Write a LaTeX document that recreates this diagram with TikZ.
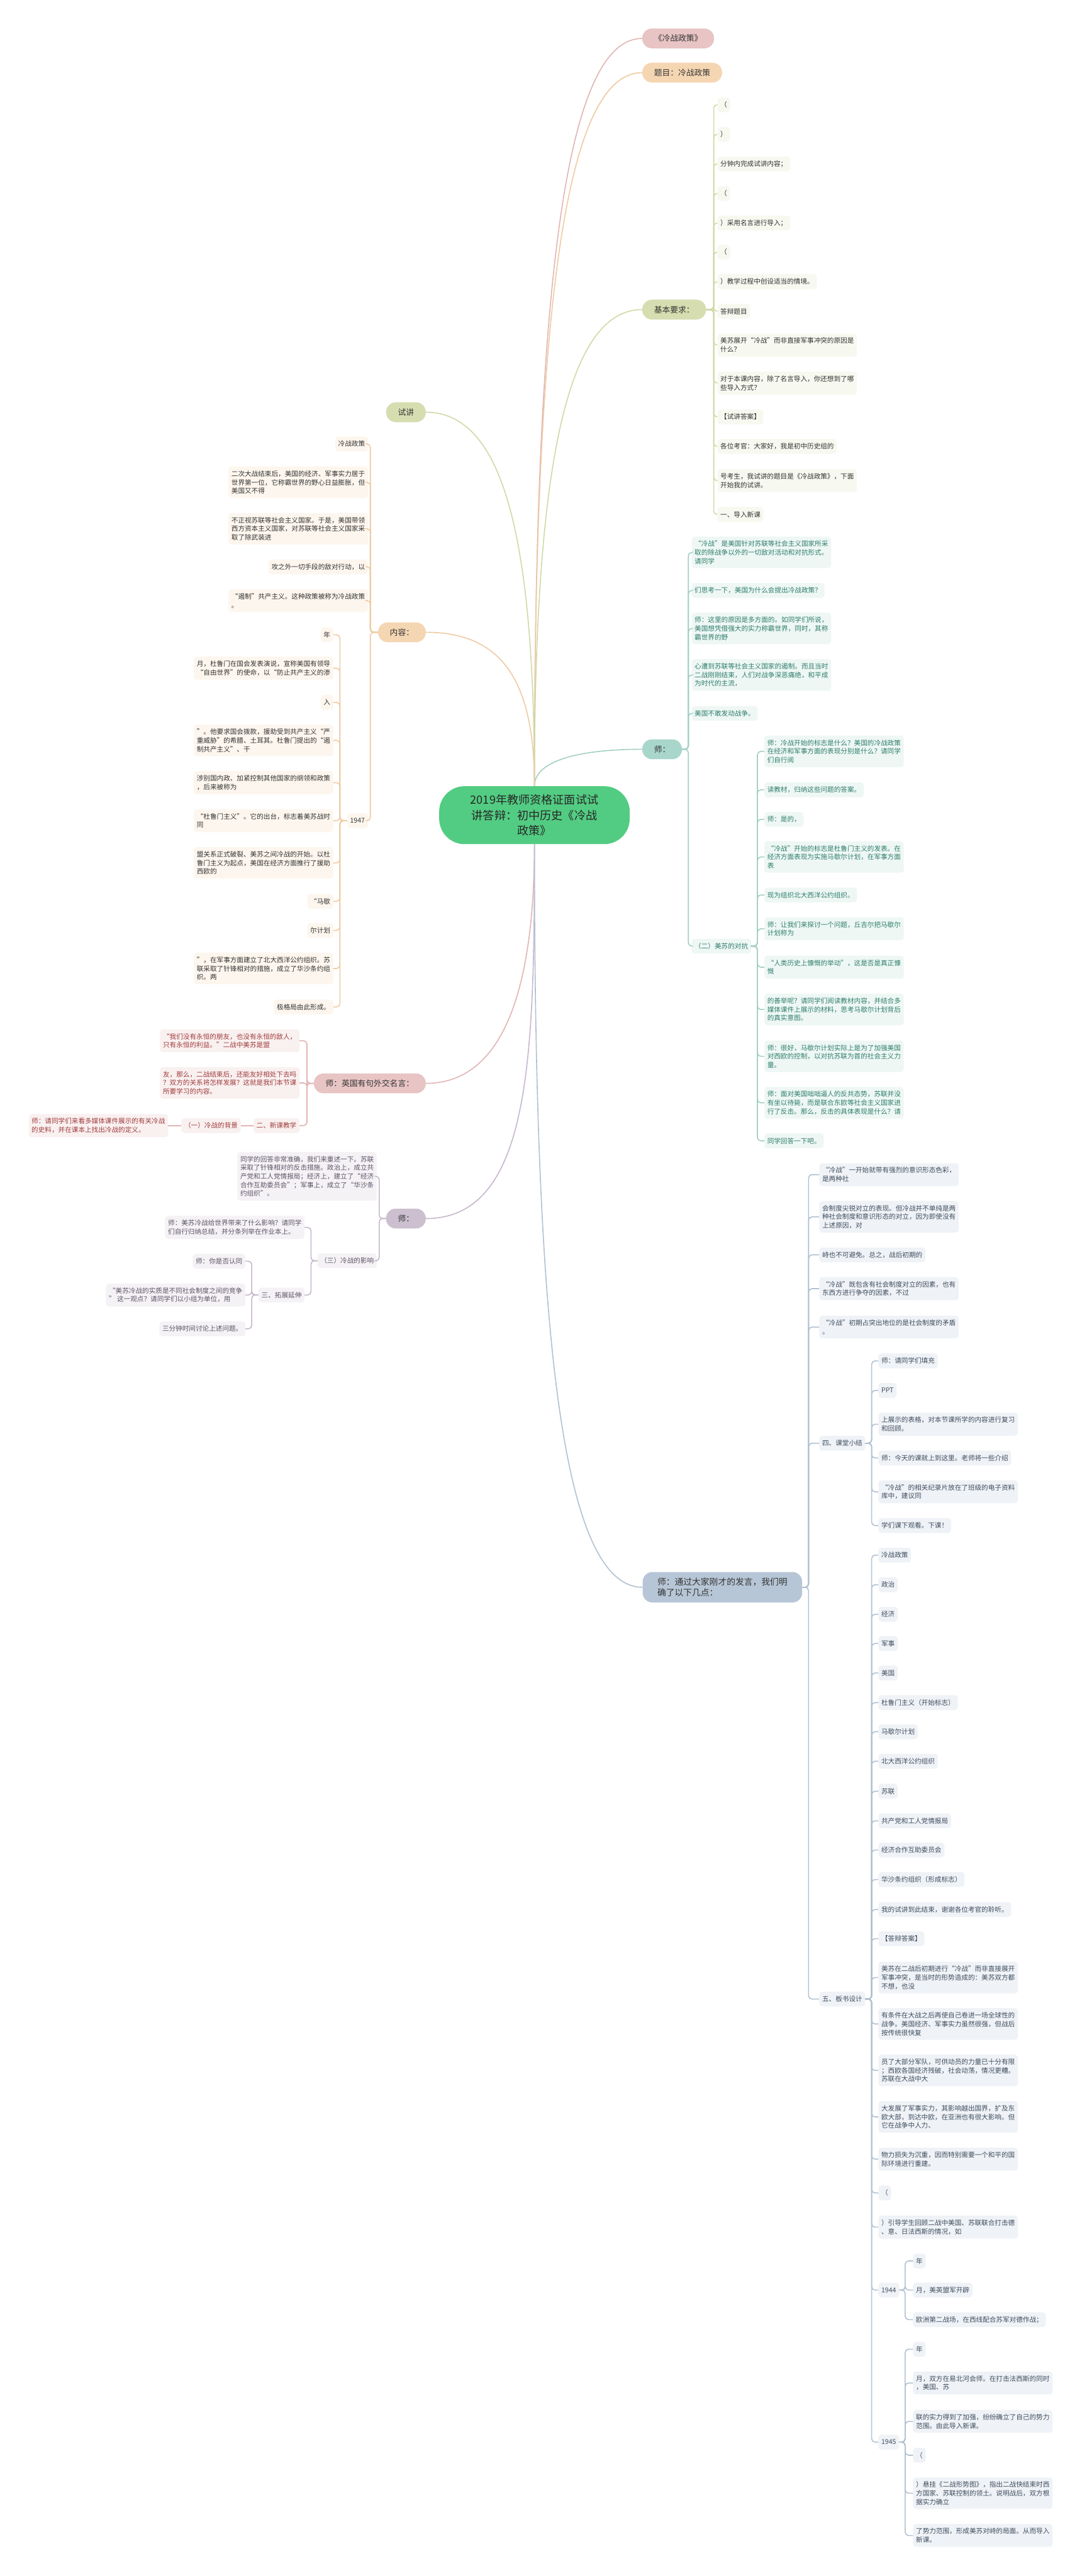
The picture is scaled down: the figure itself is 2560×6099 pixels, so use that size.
\documentclass[tikz,border=0pt]{standalone}
\usepackage{fontspec}
\setmainfont{Noto Sans CJK SC}

\definecolor{rootfill}{HTML}{52CC82}
\definecolor{textdark}{HTML}{333333}
\definecolor{pinkfill}{HTML}{E8C4C4}
\definecolor{pinkline}{HTML}{E2B4B4}
\definecolor{pinktext}{HTML}{A03C3C}
\definecolor{peachfill}{HTML}{F5D6B3}
\definecolor{peachline}{HTML}{EFCBA2}
\definecolor{olivefill}{HTML}{D6DDB0}
\definecolor{oliveline}{HTML}{D1D9A6}
\definecolor{purplefill}{HTML}{CBBFD0}
\definecolor{purpleline}{HTML}{C6B7CB}
\definecolor{purpletext}{HTML}{5C5466}
\definecolor{tealfill}{HTML}{A9D6CA}
\definecolor{tealline}{HTML}{A5D0C4}
\definecolor{tealtext}{HTML}{2E7D6B}
\definecolor{bluefill}{HTML}{B7C6D6}
\definecolor{blueline}{HTML}{B2C1D1}
\definecolor{bluetext}{HTML}{3F4D5E}

\tikzset{
  rootnode/.style={fill=rootfill, text=black!85, font=\fontsize{27}{36}\selectfont,
    align=center, inner xsep=74pt, inner ysep=20pt, rounded corners=60pt},
  topnode/.style={text=textdark, font=\fontsize{19}{24}\selectfont, align=left,
    inner xsep=28pt, inner ysep=14pt, minimum height=47pt, rounded corners=23pt},
  leaf/.style={font=\fontsize{15.8}{20.4}\selectfont, align=left,
    inner xsep=7pt, inner ysep=9.5pt, minimum height=35pt, rounded corners=7pt},
  oleaf/.style={leaf, fill=olivefill!20, text=textdark},
  cleaf/.style={leaf, fill=peachfill!22, text=textdark},
  rleaf/.style={leaf, fill=pinkfill!25, text=pinktext},
  pleaf/.style={leaf, fill=purplefill!20, text=purpletext},
  tleaf/.style={leaf, fill=tealfill!20, text=tealtext},
  bleaf/.style={leaf, fill=bluefill!22, text=bluetext},
  link/.style={line width=2.4pt, rounded corners=8pt},
  olink/.style={link, draw=oliveline},
  clink/.style={link, draw=peachline},
  rlink/.style={link, draw=pinkline},
  plink/.style={link, draw=purpleline},
  tlink/.style={link, draw=tealline},
  blink/.style={link, draw=blueline}
}

\begin{document}
\begin{tikzpicture}[x=1pt,y=-1pt]
\useasboundingbox[fill=white] (0,0) rectangle (2560,6099);

% centre and main branches
\node[rootnode] (root) at (1265,1930) {2019年教师资格证面试试\\讲答辩：初中历史《冷战\\政策》};

\node[topnode,fill=pinkfill,anchor=west] (poster) at (1520,91) {《冷战政策》};
\node[topnode,fill=peachfill,anchor=west] (topic) at (1520,172) {题目：冷战政策};
\node[topnode,fill=olivefill,anchor=west] (req) at (1520,733) {基本要求：};
\node[topnode,fill=tealfill,anchor=west] (tchA) at (1520,1774) {师：};
\node[topnode,fill=bluefill,anchor=west,font=\fontsize{20.5}{25}\selectfont,inner xsep=35pt] (tchD) at (1521,3758) {师：通过大家刚才的发言，我们明\\确了以下几点：};
\node[topnode,fill=olivefill,anchor=east] (trial) at (1008,976) {试讲};
\node[topnode,fill=peachfill,anchor=east] (content) at (1008,1497) {内容：};
\node[topnode,fill=pinkfill,anchor=east] (quote) at (1008,2565) {师：英国有句外交名言：};
\node[topnode,fill=purplefill,anchor=east] (tchB) at (1008,2885) {师：};

\draw[link,draw=pinkline] (root.north) .. controls +(0,-1200) and +(-180,0) .. (poster.west);
\draw[link,draw=peachline] (root.north) .. controls +(0,-1150) and +(-180,0) .. (topic.west);
\draw[olink] (root.north) .. controls +(0,-750) and +(-180,0) .. (req.west);
\draw[tlink] (root.north) .. controls +(0,-60) and +(-150,0) .. (tchA.west);
\draw[olink] (root.north) .. controls +(0,-600) and +(180,0) .. (trial.east);
\draw[clink] (root.north) .. controls +(0,-250) and +(180,0) .. (content.east);
\draw[rlink] (root.south) .. controls +(0,300) and +(200,0) .. (quote.east);
\draw[plink] (root.south) .. controls +(0,500) and +(250,0) .. (tchB.east);
\draw[blink] (root.south) .. controls +(0,1100) and +(-200,0) .. (tchD.west);

% basic requirements
\node[oleaf,anchor=west] (k1) at (1698,248) {（};
\node[oleaf,anchor=west] (k2) at (1698,318) {）};
\node[oleaf,anchor=west] (k3) at (1698,388) {分钟内完成试讲内容；};
\node[oleaf,anchor=west] (k4) at (1698,458) {（};
\node[oleaf,anchor=west] (k5) at (1698,528) {）采用名言进行导入；};
\node[oleaf,anchor=west] (k6) at (1698,597) {（};
\node[oleaf,anchor=west] (k7) at (1698,667) {）教学过程中创设适当的情境。};
\node[oleaf,anchor=west] (k8) at (1698,737) {答辩题目};
\node[oleaf,anchor=west] (k9) at (1698,817) {美苏展开“冷战”而非直接军事冲突的原因是\\什么？};
\node[oleaf,anchor=west] (k10) at (1698,907) {对于本课内容，除了名言导入，你还想到了哪\\些导入方式？};
\node[oleaf,anchor=west] (k11) at (1698,987) {【试讲答案】};
\node[oleaf,anchor=west] (k12) at (1698,1057) {各位考官：大家好，我是初中历史组的};
\node[oleaf,anchor=west] (k13) at (1698,1138) {号考生，我试讲的题目是《冷战政策》，下面\\开始我的试讲。};
\node[oleaf,anchor=west] (k14) at (1698,1218) {一、导入新课};
\draw[olink] (req.east) -- ++(18,0) |- (k1.west);
\draw[olink] (req.east) -- ++(18,0) |- (k2.west);
\draw[olink] (req.east) -- ++(18,0) |- (k3.west);
\draw[olink] (req.east) -- ++(18,0) |- (k4.west);
\draw[olink] (req.east) -- ++(18,0) |- (k5.west);
\draw[olink] (req.east) -- ++(18,0) |- (k6.west);
\draw[olink] (req.east) -- ++(18,0) |- (k7.west);
\draw[olink] (req.east) -- ++(18,0) |- (k8.west);
\draw[olink] (req.east) -- ++(18,0) |- (k9.west);
\draw[olink] (req.east) -- ++(18,0) |- (k10.west);
\draw[olink] (req.east) -- ++(18,0) |- (k11.west);
\draw[olink] (req.east) -- ++(18,0) |- (k12.west);
\draw[olink] (req.east) -- ++(18,0) |- (k13.west);
\draw[olink] (req.east) -- ++(18,0) |- (k14.west);

% content
\node[cleaf,anchor=east] (n1) at (871,1051) {冷战政策};
\node[cleaf,anchor=east] (n2) at (871,1142) {二次大战结束后，美国的经济、军事实力居于\\世界第一位，它称霸世界的野心日益膨胀，但\\美国又不得};
\node[cleaf,anchor=east] (n3) at (871,1252) {不正视苏联等社会主义国家。于是，美国带领\\西方资本主义国家，对苏联等社会主义国家采\\取了除武装进};
\node[cleaf,anchor=east] (n4) at (871,1342) {攻之外一切手段的敌对行动，以};
\node[cleaf,anchor=east] (n5) at (871,1422) {“遏制”共产主义。这种政策被称为冷战政策\\。};
\node[cleaf,anchor=east] (n6) at (871,1943) {1947};
\draw[clink] (content.west) -- ++(-18,0) |- (n1.east);
\draw[clink] (content.west) -- ++(-18,0) |- (n2.east);
\draw[clink] (content.west) -- ++(-18,0) |- (n3.east);
\draw[clink] (content.west) -- ++(-18,0) |- (n4.east);
\draw[clink] (content.west) -- ++(-18,0) |- (n5.east);
\draw[clink] (content.west) -- ++(-18,0) |- (n6.east);

\node[cleaf,anchor=east] (y1) at (789,1503) {年};
\node[cleaf,anchor=east] (y2) at (789,1582) {月，杜鲁门在国会发表演说，宣称美国有领导\\“自由世界”的使命，以“防止共产主义的渗};
\node[cleaf,anchor=east] (y3) at (789,1663) {入};
\node[cleaf,anchor=east] (y4) at (789,1753) {”。他要求国会拨款，援助受到共产主义“严\\重威胁”的希腊、土耳其。杜鲁门提出的“遏\\制共产主义”、干};
\node[cleaf,anchor=east] (y5) at (789,1853) {涉别国内政、加紧控制其他国家的纲领和政策\\，后来被称为};
\node[cleaf,anchor=east] (y6) at (789,1943) {“杜鲁门主义”。它的出台，标志着美苏战时\\同};
\node[cleaf,anchor=east] (y7) at (789,2043) {盟关系正式破裂、美苏之间冷战的开始。以杜\\鲁门主义为起点，美国在经济方面推行了援助\\西欧的};
\node[cleaf,anchor=east] (y8) at (789,2134) {“马歇};
\node[cleaf,anchor=east] (y9) at (789,2203) {尔计划};
\node[cleaf,anchor=east] (y10) at (789,2293) {”，在军事方面建立了北大西洋公约组织。苏\\联采取了针锋相对的措施，成立了华沙条约组\\织。两};
\node[cleaf,anchor=east] (y11) at (789,2384) {极格局由此形成。};
\draw[clink] (n6.west) -- ++(-17,0) |- (y1.east);
\draw[clink] (n6.west) -- ++(-17,0) |- (y2.east);
\draw[clink] (n6.west) -- ++(-17,0) |- (y3.east);
\draw[clink] (n6.west) -- ++(-17,0) |- (y4.east);
\draw[clink] (n6.west) -- ++(-17,0) |- (y5.east);
\draw[clink] (n6.west) -- ++(-17,0) |- (y6.east);
\draw[clink] (n6.west) -- ++(-17,0) |- (y7.east);
\draw[clink] (n6.west) -- ++(-17,0) |- (y8.east);
\draw[clink] (n6.west) -- ++(-17,0) |- (y9.east);
\draw[clink] (n6.west) -- ++(-17,0) |- (y10.east);
\draw[clink] (n6.west) -- ++(-17,0) |- (y11.east);

% quote
\node[rleaf,anchor=east] (e1) at (709,2464) {“我们没有永恒的朋友，也没有永恒的敌人，\\只有永恒的利益。”二战中美苏是盟};
\node[rleaf,anchor=east] (e2) at (709,2564) {友，那么，二战结束后，还能友好相处下去吗\\？双方的关系将怎样发展？这就是我们本节课\\所要学习的内容。};
\node[rleaf,anchor=east] (e3) at (709,2665) {二、新课教学};
\node[rleaf,anchor=east] (f1) at (570,2665) {（一）冷战的背景};
\node[rleaf,anchor=east] (g1) at (398,2665) {师：请同学们来看多媒体课件展示的有关冷战\\的史料，并在课本上找出冷战的定义。};
\draw[rlink] (quote.west) -- ++(-16,0) |- (e1.east);
\draw[rlink] (quote.west) -- ++(-16,0) |- (e2.east);
\draw[rlink] (quote.west) -- ++(-16,0) |- (e3.east);
\draw[rlink] (e3.west) -- (f1.east);
\draw[rlink] (f1.west) -- (g1.east);

% teacher, purple
\node[pleaf,anchor=east] (p1) at (892,2785) {同学的回答非常准确，我们来重述一下。苏联\\采取了针锋相对的反击措施。政治上，成立共\\产党和工人党情报局；经济上，建立了“经济\\合作互助委员会”；军事上，成立了“华沙条\\约组织”。};
\node[pleaf,anchor=east] (p2) at (892,2985) {（三）冷战的影响};
\node[pleaf,anchor=east] (q1) at (721,2906) {师：美苏冷战给世界带来了什么影响？请同学\\们自行归纳总结，并分条列举在作业本上。};
\node[pleaf,anchor=east] (q2) at (721,3066) {三、拓展延伸};
\node[pleaf,anchor=east] (r1) at (581,2986) {师：你是否认同};
\node[pleaf,anchor=east] (r2) at (581,3066) {“美苏冷战的实质是不同社会制度之间的竞争\\” 这一观点？请同学们以小组为单位，用};
\node[pleaf,anchor=east] (r3) at (581,3146) {三分钟时间讨论上述问题。};
\draw[plink] (tchB.west) -- ++(-16,0) |- (p1.east);
\draw[plink] (tchB.west) -- ++(-16,0) |- (p2.east);
\draw[plink] (p2.west) -- ++(-15,0) |- (q1.east);
\draw[plink] (p2.west) -- ++(-15,0) |- (q2.east);
\draw[plink] (q2.west) -- ++(-16,0) |- (r1.east);
\draw[plink] (q2.west) -- ++(-16,0) |- (r2.east);
\draw[plink] (q2.west) -- ++(-16,0) |- (r3.east);

% teacher, teal
\node[tleaf,anchor=west] (t1) at (1637,1308) {“冷战”是美国针对苏联等社会主义国家所采\\取的除战争以外的一切敌对活动和对抗形式。\\请同学};
\node[tleaf,anchor=west] (t2) at (1637,1398) {们思考一下，美国为什么会提出冷战政策？};
\node[tleaf,anchor=west] (t3) at (1637,1488) {师：这里的原因是多方面的。如同学们所说，\\美国想凭借强大的实力称霸世界，同时，其称\\霸世界的野};
\node[tleaf,anchor=west] (t4) at (1637,1598) {心遭到苏联等社会主义国家的遏制。而且当时\\二战刚刚结束，人们对战争深恶痛绝，和平成\\为时代的主流，};
\node[tleaf,anchor=west] (t5) at (1637,1689) {美国不敢发动战争。};
\node[tleaf,anchor=west] (t6) at (1637,2240) {（二）美苏的对抗};
\draw[tlink] (tchA.east) -- ++(15,0) |- (t1.west);
\draw[tlink] (tchA.east) -- ++(15,0) |- (t2.west);
\draw[tlink] (tchA.east) -- ++(15,0) |- (t3.west);
\draw[tlink] (tchA.east) -- ++(15,0) |- (t4.west);
\draw[tlink] (tchA.east) -- ++(15,0) |- (t5.west);
\draw[tlink] (tchA.east) -- ++(15,0) |- (t6.west);

\node[tleaf,anchor=west] (u1) at (1809,1779) {师：冷战开始的标志是什么？美国的冷战政策\\在经济和军事方面的表现分别是什么？请同学\\们自行阅};
\node[tleaf,anchor=west] (u2) at (1809,1870) {读教材，归纳这些问题的答案。};
\node[tleaf,anchor=west] (u3) at (1809,1940) {师：是的，};
\node[tleaf,anchor=west] (u4) at (1809,2029) {“冷战”开始的标志是杜鲁门主义的发表。在\\经济方面表现为实施马歇尔计划，在军事方面\\表};
\node[tleaf,anchor=west] (u5) at (1809,2119) {现为组织北大西洋公约组织。};
\node[tleaf,anchor=west] (u6) at (1809,2199) {师：让我们来探讨一个问题，丘吉尔把马歇尔\\计划称为};
\node[tleaf,anchor=west] (u7) at (1809,2290) {“人类历史上慷慨的举动”，这是否是真正慷\\慨};
\node[tleaf,anchor=west] (u8) at (1809,2390) {的善举呢？请同学们阅读教材内容，并结合多\\媒体课件上展示的材料，思考马歇尔计划背后\\的真实意图。};
\node[tleaf,anchor=west] (u9) at (1809,2501) {师：很好，马歇尔计划实际上是为了加强美国\\对西欧的控制，以对抗苏联为首的社会主义力\\量。};
\node[tleaf,anchor=west] (u10) at (1809,2611) {师：面对美国咄咄逼人的反共态势，苏联并没\\有坐以待毙，而是联合东欧等社会主义国家进\\行了反击。那么，反击的具体表现是什么？请};
\node[tleaf,anchor=west] (u11) at (1809,2701) {同学回答一下吧。};
\draw[tlink] (t6.east) -- ++(15,0) |- (u1.west);
\draw[tlink] (t6.east) -- ++(15,0) |- (u2.west);
\draw[tlink] (t6.east) -- ++(15,0) |- (u3.west);
\draw[tlink] (t6.east) -- ++(15,0) |- (u4.west);
\draw[tlink] (t6.east) -- ++(15,0) |- (u5.west);
\draw[tlink] (t6.east) -- ++(15,0) |- (u6.west);
\draw[tlink] (t6.east) -- ++(15,0) |- (u7.west);
\draw[tlink] (t6.east) -- ++(15,0) |- (u8.west);
\draw[tlink] (t6.east) -- ++(15,0) |- (u9.west);
\draw[tlink] (t6.east) -- ++(15,0) |- (u10.west);
\draw[tlink] (t6.east) -- ++(15,0) |- (u11.west);

% teacher, summary
\node[bleaf,anchor=west] (w1) at (1939,2781) {“冷战”一开始就带有强烈的意识形态色彩，\\是两种社};
\node[bleaf,anchor=west] (w2) at (1939,2881) {会制度尖锐对立的表现。但冷战并不单纯是两\\种社会制度和意识形态的对立，因为即使没有\\上述原因，对};
\node[bleaf,anchor=west] (w3) at (1939,2971) {峙也不可避免。总之，战后初期的};
\node[bleaf,anchor=west] (w4) at (1939,3051) {“冷战”既包含有社会制度对立的因素，也有\\东西方进行争夺的因素，不过};
\node[bleaf,anchor=west] (w5) at (1939,3142) {“冷战”初期占突出地位的是社会制度的矛盾\\。};
\node[bleaf,anchor=west] (w6) at (1939,3417) {四、课堂小结};
\node[bleaf,anchor=west] (w7) at (1939,4733) {五、板书设计};
\draw[blink] (tchD.east) -- ++(15,0) |- (w1.west);
\draw[blink] (tchD.east) -- ++(15,0) |- (w2.west);
\draw[blink] (tchD.east) -- ++(15,0) |- (w3.west);
\draw[blink] (tchD.east) -- ++(15,0) |- (w4.west);
\draw[blink] (tchD.east) -- ++(15,0) |- (w5.west);
\draw[blink] (tchD.east) -- ++(15,0) |- (w6.west);
\draw[blink] (tchD.east) -- ++(15,0) |- (w7.west);

\node[bleaf,anchor=west] (x1) at (2079,3222) {师：请同学们填充};
\node[bleaf,anchor=west] (x2) at (2079,3292) {PPT};
\node[bleaf,anchor=west] (x3) at (2079,3372) {上展示的表格，对本节课所学的内容进行复习\\和回顾。};
\node[bleaf,anchor=west] (x4) at (2079,3452) {师：今天的课就上到这里。老师将一些介绍};
\node[bleaf,anchor=west] (x5) at (2079,3532) {“冷战”的相关纪录片放在了班级的电子资料\\库中，建议同};
\node[bleaf,anchor=west] (x6) at (2079,3612) {学们课下观看。下课！};
\draw[blink] (w6.east) -- ++(15,0) |- (x1.west);
\draw[blink] (w6.east) -- ++(15,0) |- (x2.west);
\draw[blink] (w6.east) -- ++(15,0) |- (x3.west);
\draw[blink] (w6.east) -- ++(15,0) |- (x4.west);
\draw[blink] (w6.east) -- ++(15,0) |- (x5.west);
\draw[blink] (w6.east) -- ++(15,0) |- (x6.west);

\node[bleaf,anchor=west] (z1) at (2079,3682) {冷战政策};
\node[bleaf,anchor=west] (z2) at (2079,3752) {政治};
\node[bleaf,anchor=west] (z3) at (2079,3822) {经济};
\node[bleaf,anchor=west] (z4) at (2079,3891) {军事};
\node[bleaf,anchor=west] (z5) at (2079,3961) {美国};
\node[bleaf,anchor=west] (z6) at (2079,4031) {杜鲁门主义（开始标志）};
\node[bleaf,anchor=west] (z7) at (2079,4100) {马歇尔计划};
\node[bleaf,anchor=west] (z8) at (2079,4170) {北大西洋公约组织};
\node[bleaf,anchor=west] (z9) at (2079,4241) {苏联};
\node[bleaf,anchor=west] (z10) at (2079,4311) {共产党和工人党情报局};
\node[bleaf,anchor=west] (z11) at (2079,4380) {经济合作互助委员会};
\node[bleaf,anchor=west] (z12) at (2079,4450) {华沙条约组织（形成标志）};
\node[bleaf,anchor=west] (z13) at (2079,4521) {我的试讲到此结束，谢谢各位考官的聆听。};
\node[bleaf,anchor=west] (z14) at (2079,4590) {【答辩答案】};
\node[bleaf,anchor=west] (z15) at (2079,4682) {美苏在二战后初期进行“冷战”而非直接展开\\军事冲突，是当时的形势造成的：美苏双方都\\不想，也没};
\node[bleaf,anchor=west] (z16) at (2079,4792) {有条件在大战之后再使自己卷进一场全球性的\\战争。美国经济、军事实力虽然很强，但战后\\按传统很快复};
\node[bleaf,anchor=west] (z17) at (2079,4902) {员了大部分军队，可供动员的力量已十分有限\\；西欧各国经济残破，社会动荡，情况更糟。\\苏联在大战中大};
\node[bleaf,anchor=west] (z18) at (2079,5012) {大发展了军事实力，其影响越出国界，扩及东\\欧大部，到达中欧，在亚洲也有很大影响。但\\它在战争中人力、};
\node[bleaf,anchor=west] (z19) at (2079,5112) {物力损失为沉重，因而特别需要一个和平的国\\际环境进行重建。};
\node[bleaf,anchor=west] (z20) at (2079,5192) {（};
\node[bleaf,anchor=west] (z21) at (2079,5273) {）引导学生回顾二战中美国、苏联联合打击德\\、意、日法西斯的情况，如};
\node[bleaf,anchor=west] (z22) at (2079,5422) {1944};
\node[bleaf,anchor=west] (z23) at (2079,5782) {1945};
\draw[blink] (w7.east) -- ++(15,0) |- (z1.west);
\draw[blink] (w7.east) -- ++(15,0) |- (z2.west);
\draw[blink] (w7.east) -- ++(15,0) |- (z3.west);
\draw[blink] (w7.east) -- ++(15,0) |- (z4.west);
\draw[blink] (w7.east) -- ++(15,0) |- (z5.west);
\draw[blink] (w7.east) -- ++(15,0) |- (z6.west);
\draw[blink] (w7.east) -- ++(15,0) |- (z7.west);
\draw[blink] (w7.east) -- ++(15,0) |- (z8.west);
\draw[blink] (w7.east) -- ++(15,0) |- (z9.west);
\draw[blink] (w7.east) -- ++(15,0) |- (z10.west);
\draw[blink] (w7.east) -- ++(15,0) |- (z11.west);
\draw[blink] (w7.east) -- ++(15,0) |- (z12.west);
\draw[blink] (w7.east) -- ++(15,0) |- (z13.west);
\draw[blink] (w7.east) -- ++(15,0) |- (z14.west);
\draw[blink] (w7.east) -- ++(15,0) |- (z15.west);
\draw[blink] (w7.east) -- ++(15,0) |- (z16.west);
\draw[blink] (w7.east) -- ++(15,0) |- (z17.west);
\draw[blink] (w7.east) -- ++(15,0) |- (z18.west);
\draw[blink] (w7.east) -- ++(15,0) |- (z19.west);
\draw[blink] (w7.east) -- ++(15,0) |- (z20.west);
\draw[blink] (w7.east) -- ++(15,0) |- (z21.west);
\draw[blink] (w7.east) -- ++(15,0) |- (z22.west);
\draw[blink] (w7.east) -- ++(15,0) |- (z23.west);

\node[bleaf,anchor=west] (a1) at (2161,5353) {年};
\node[bleaf,anchor=west] (a2) at (2161,5422) {月，美英盟军开辟};
\node[bleaf,anchor=west] (a3) at (2161,5492) {欧洲第二战场，在西线配合苏军对德作战；};
\draw[blink] (z22.east) -- ++(14,0) |- (a1.west);
\draw[blink] (z22.east) -- ++(14,0) |- (a2.west);
\draw[blink] (z22.east) -- ++(14,0) |- (a3.west);

\node[bleaf,anchor=west] (b1) at (2161,5562) {年};
\node[bleaf,anchor=west] (b2) at (2161,5642) {月，双方在易北河会师。在打击法西斯的同时\\，美国、苏};
\node[bleaf,anchor=west] (b3) at (2161,5733) {联的实力得到了加强，纷纷确立了自己的势力\\范围。由此导入新课。};
\node[bleaf,anchor=west] (b4) at (2161,5813) {（};
\node[bleaf,anchor=west] (b5) at (2161,5903) {）悬挂《二战形势图》，指出二战快结束时西\\方国家、苏联控制的领土。说明战后，双方根\\据实力确立};
\node[bleaf,anchor=west] (b6) at (2161,6003) {了势力范围，形成美苏对峙的局面。从而导入\\新课。};
\draw[blink] (z23.east) -- ++(14,0) |- (b1.west);
\draw[blink] (z23.east) -- ++(14,0) |- (b2.west);
\draw[blink] (z23.east) -- ++(14,0) |- (b3.west);
\draw[blink] (z23.east) -- ++(14,0) |- (b4.west);
\draw[blink] (z23.east) -- ++(14,0) |- (b5.west);
\draw[blink] (z23.east) -- ++(14,0) |- (b6.west);
\end{tikzpicture}
\end{document}
